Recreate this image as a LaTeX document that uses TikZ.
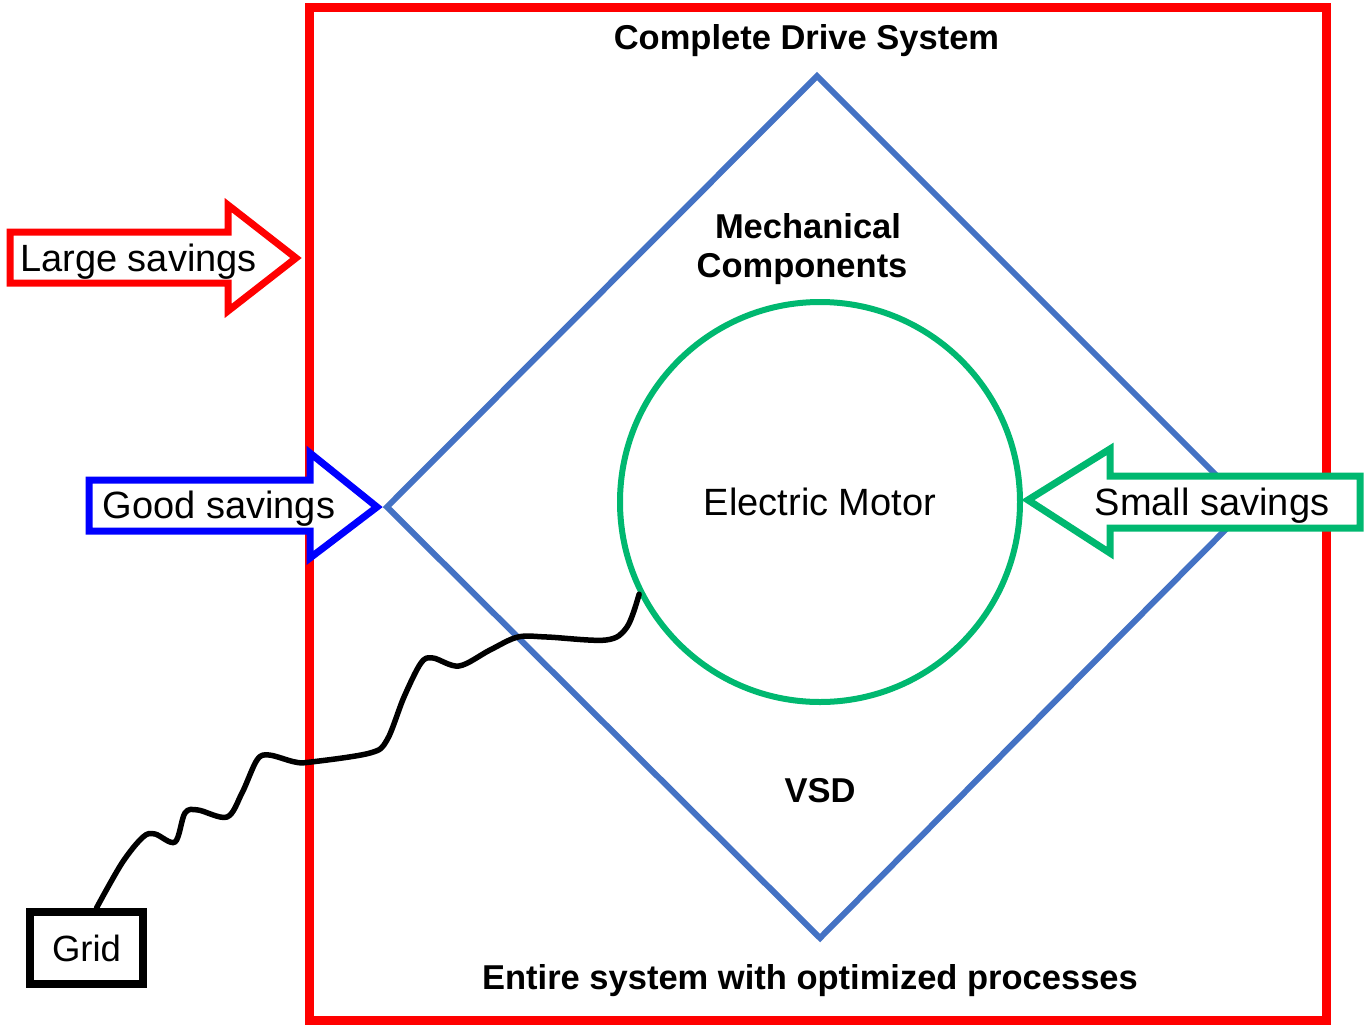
\documentclass[tikz,border=0pt]{standalone}
\usepackage{fontspec}
\setmainfont{Liberation Sans}
\usetikzlibrary{calc}
\definecolor{framered}{RGB}{255,0,0}
\definecolor{diamblue}{RGB}{68,114,196}
\definecolor{goodblue}{RGB}{0,0,255}
\definecolor{motorgreen}{RGB}{0,184,112}
\begin{document}
\begin{tikzpicture}[x=1pt,y=-1pt,
  lbl/.style={inner sep=0pt,anchor=base,font=\fontsize{38}{44}\selectfont},
  blbl/.style={inner sep=0pt,anchor=base,font=\fontsize{34.5}{40}\selectfont\bfseries},
  arrowbox/.style={line width=7pt,fill=white,line join=miter}]
\useasboundingbox (0,0) rectangle (1366,1026);
\fill[white] (0,0) rectangle (1366,1026);
% frame
\draw[framered,line width=9pt] (309,7) rectangle (1326,1020);
% diamond
\coordinate (dT) at (817,76);
\coordinate (dL) at (387,507);
\coordinate (dB) at (820,938);
\coordinate (dR) at (1248,507);
\draw[diamblue,line width=6pt,line join=miter] (dT)--(dR)--(dB)--(dL)--cycle;
% motor
\node[circle,draw=motorgreen,line width=6pt,minimum size=400pt,inner sep=0pt,lbl,anchor=center] (motor) at (820,502) {Electric Motor};
% arrows
\draw[framered,arrowbox] (10,232) -- (228,232) -- (228,205) -- (296,258) -- (228,311) -- (228,283) -- (10,283) -- cycle;
\draw[goodblue,arrowbox] (89,480) -- (310,480) -- (310,453) -- (377,507) -- (310,558) -- (310,531) -- (89,531) -- cycle;
\draw[motorgreen,arrowbox] (1360,476) -- (1110,476) -- (1110,449) -- (1028,500) -- (1110,553) -- (1110,528) -- (1360,528) -- cycle;
% texts
\node[blbl] (title) at (806.5,49) {Complete Drive System};
\node[blbl] (mech1) at (808,238) {Mechanical};
\node[blbl] (mech2) at (802,277) {Components};
\node[blbl] (vsd) at (820,802) {VSD};
\node[blbl] (entire) at (810,989) {Entire system with optimized processes};
\node[lbl] (large) at (138.5,271) {Large savings};
\node[lbl] (good) at (219,518) {Good savings};
\node[lbl] (small) at (1212,515) {Small savings};
% grid
\node[draw,line width=8pt,minimum width=113pt,minimum height=72pt,inner sep=0pt,font=\fontsize{36.5}{42}\selectfont] (grid) at (86.5,948) {Grid};
\coordinate (wstart) at ($(grid.north)+(10,0)$);
\coordinate (wend) at (motor.207.8);
\draw[line width=5.5pt,line cap=round,line join=round] plot[smooth,tension=0.55] coordinates {(wstart) (122,863) (143,837) (155,834) (175,842) (185,813) (198,810) (227,817) (242,793) (257,760) (269,755) (295,762) (311,762) (370,753) (387,740) (404,697) (421,663) (433,658) (459,666) (490,650) (518,637) (547,637) (606,640) (627,627) (wend)};
\end{tikzpicture}
\end{document}
